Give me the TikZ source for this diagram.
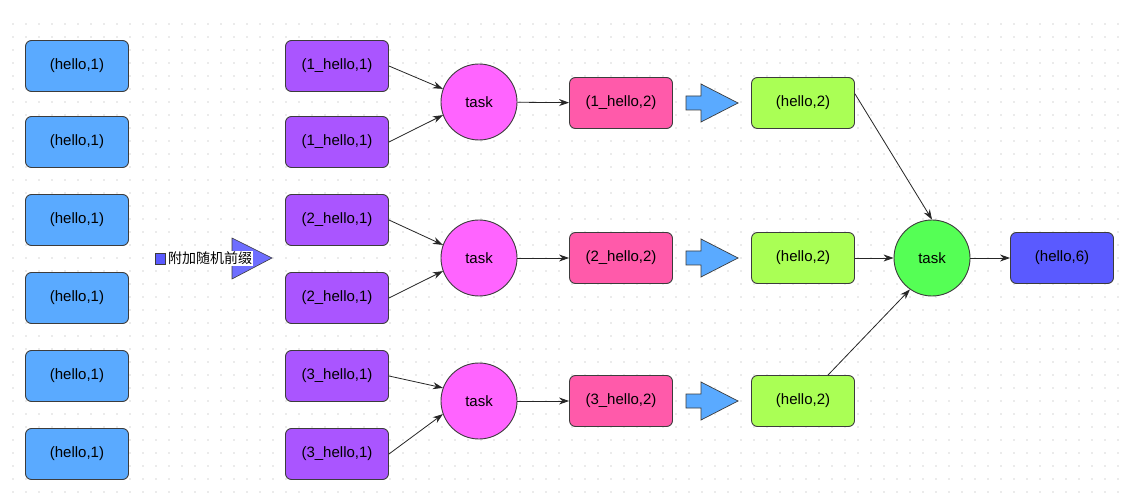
\documentclass[tikz,border=0pt]{standalone}
\usepackage{fontspec}
\setmainfont{Liberation Sans}
\newfontfamily\cjk{Noto Sans CJK SC}
\usetikzlibrary{arrows.meta}
\definecolor{cblue}{RGB}{90,170,255}
\definecolor{cpurple}{RGB}{170,85,255}
\definecolor{cpinkc}{RGB}{255,100,255}
\definecolor{cpinkb}{RGB}{255,90,170}
\definecolor{cgreenb}{RGB}{170,255,85}
\definecolor{cgreenc}{RGB}{85,255,85}
\definecolor{cfinal}{RGB}{90,90,255}
\definecolor{ctri}{RGB}{110,110,255}
\definecolor{cedge}{RGB}{60,60,60}
\definecolor{cdot}{RGB}{215,215,215}
\tikzset{
  box/.style={draw=cedge, line width=0.9pt, rounded corners=6pt, minimum width=103pt, minimum height=51pt, inner sep=0pt, font=\fontsize{15}{17}\selectfont},
  taskc/.style={draw=cedge, line width=0.9pt, circle, minimum size=76pt, inner sep=0pt, font=\fontsize{15}{17}\selectfont},
  conn/.style={draw=black!85, line width=0.8pt, -{Stealth[length=10pt,width=7pt]}},
  blockarrow/.style={fill=cblue, draw=cedge, line width=0.7pt},
}
\begin{document}
\begin{tikzpicture}[x=1pt,y=-1pt]
\useasboundingbox (0,0) rectangle (1137,502);
\fill[white] (0,0) rectangle (1137,502);
% dot grid
\foreach \i in {0,...,85}{
  \foreach \j in {0,...,36}{
    \fill[cdot] (13+13*\i,24+13*\j) circle (0.8pt);
  }
}
% blue column
\foreach \k/\y in {1/66,2/142,3/220,4/298,5/376,6/454}{
  \node[box, fill=cblue] (b\k) at (77,\y) {(hello,1)};
}
% purple column
\node[box, fill=cpurple] (p1) at (337,66) {(1\_hello,1)};
\node[box, fill=cpurple] (p2) at (337,142) {(1\_hello,1)};
\node[box, fill=cpurple] (p3) at (337,220) {(2\_hello,1)};
\node[box, fill=cpurple] (p4) at (337,298) {(2\_hello,1)};
\node[box, fill=cpurple] (p5) at (337,376) {(3\_hello,1)};
\node[box, fill=cpurple] (p6) at (337,454) {(3\_hello,1)};
% task circles
\node[taskc, fill=cpinkc] (t1) at (479,102) {task};
\node[taskc, fill=cpinkc] (t2) at (479,258) {task};
\node[taskc, fill=cpinkc] (t3) at (479,401) {task};
% pink boxes
\node[box, fill=cpinkb] (k1) at (621,103) {(1\_hello,2)};
\node[box, fill=cpinkb] (k2) at (621,258) {(2\_hello,2)};
\node[box, fill=cpinkb] (k3) at (621,401) {(3\_hello,2)};
% block arrows
\foreach \y in {103,258,401}{
  \draw[blockarrow] (686,\y-7) -- (701,\y-7) -- (701,\y-19) -- (738,\y) -- (701,\y+19) -- (701,\y+7) -- (686,\y+7) -- cycle;
}
% green boxes
\node[box, fill=cgreenb] (g1) at (803,103) {(hello,2)};
\node[box, fill=cgreenb] (g2) at (803,258) {(hello,2)};
\node[box, fill=cgreenb] (g3) at (803,401) {(hello,2)};
% final task
\node[taskc, fill=cgreenc] (tf) at (932,258) {task};
\node[box, fill=cfinal] (fin) at (1062,258) {(hello,6)};
% label with triangle
\draw[fill=ctri, draw=cedge, line width=0.6pt] (232,238) -- (272,258) -- (232,279) -- cycle;
\fill[cfinal, draw=cedge, line width=0.5pt] (155,253) rectangle (165,264);
\node[fill=white, inner sep=1pt, anchor=west, font=\cjk\fontsize{14}{16}\selectfont] (lab) at (167,258.5) {附加随机前缀};
% connectors
\draw[conn] (p1.east) -- (t1.160);
\draw[conn] (p2.east) -- (t1.200);
\draw[conn] (p3.east) -- (t2.160);
\draw[conn] (p4.east) -- (t2.200);
\draw[conn] (p5.east) -- (t3.160);
\draw[conn] (p6.east) -- (t3.200);
\draw[conn] (t1) -- (k1);
\draw[conn] (t2) -- (k2);
\draw[conn] (t3) -- (k3);
\draw[conn] (g1.10) -- (tf.north);
\draw[conn] (g2) -- (tf);
\draw[conn] ([xshift=25pt]g3.north) -- (tf.235);
\draw[conn] (tf) -- (fin);
\end{tikzpicture}
\end{document}
